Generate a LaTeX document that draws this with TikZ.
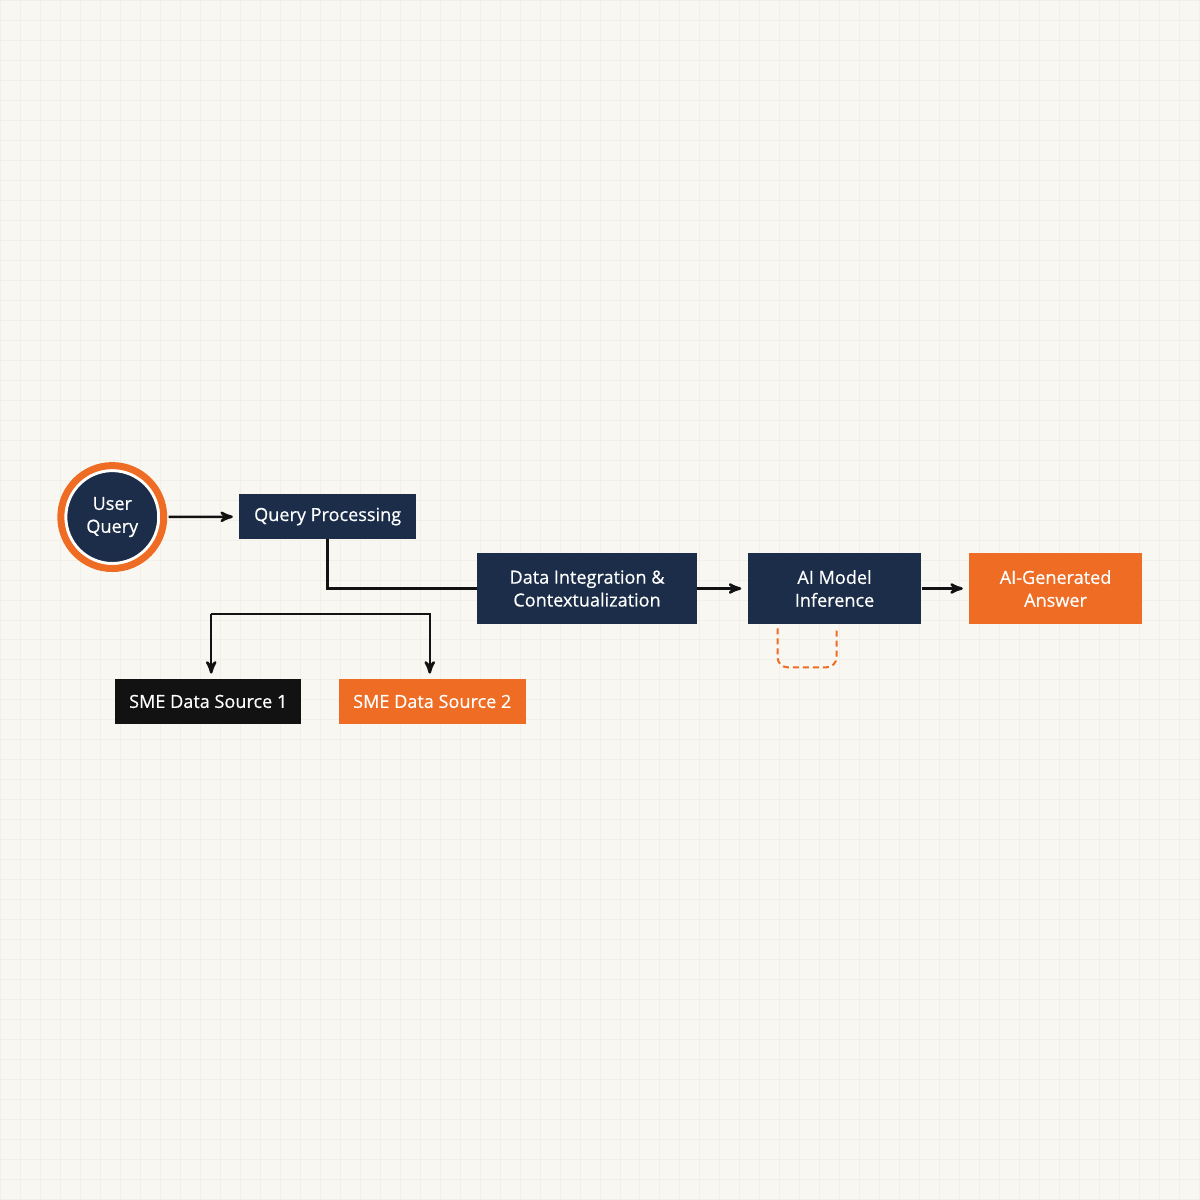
\documentclass[tikz,border=0pt]{standalone}
\usepackage{fontspec}
\setmainfont{Open Sans}
\newfontfamily\boxfont{Open Sans}[FakeBold=0.5]
\usetikzlibrary{arrows, positioning, calc}

\definecolor{navy}{HTML}{1B2D48}
\definecolor{flame}{HTML}{EE6C24}
\definecolor{ink}{HTML}{121212}
\definecolor{paper}{HTML}{F8F7F1}
\definecolor{gridline}{HTML}{F1EFE8}

\tikzset{
  box/.style={rectangle, text=white, align=center, inner sep=0pt,
    font=\boxfont\fontsize{10.3}{13}\selectfont},
  navybox/.style={box, fill=navy},
  flamebox/.style={box, fill=flame},
  inkbox/.style={box, fill=ink},
  usercircle/.style={circle, fill=navy, draw=white, line width=0.06cm,
    minimum size=1.86cm, text=white, align=center, inner sep=0pt,
    font=\boxfont\fontsize{10.3}{13}\selectfont},
  link/.style={draw=ink, line width=0.05cm},
}

\begin{document}
\begin{tikzpicture}[x=0.02cm, y=-0.02cm, >=stealth', node distance=1cm]

% paper and faint grid
  \fill[paper] (0,0) rectangle (1200,1200);
  \draw[gridline, line width=0.4pt, step=0.4cm] (0,0) grid (1200,1200);
  \useasboundingbox (0,0) rectangle (1200,1200);

% define the stages
  \node[usercircle]   (uq)   at (112,517)
{User\\Query};
  \draw[flame, line width=0.14cm] (uq.center) circle (1.03cm);
  \node[navybox, minimum width=3.54cm, minimum height=0.9cm]   (qp)   at (327.5,516.5)
{Query Processing};
  \node[navybox, minimum width=4.4cm, minimum height=1.42cm]   (di)   at (587,588.5)
{Data Integration \&\\Contextualization};
  \node[navybox, minimum width=3.48cm, minimum height=1.42cm]   (aim)   [right=1cm of di]
{AI Model\\Inference};
  \node[flamebox, minimum width=3.46cm, minimum height=1.42cm]   (ans)   [right=0.94cm of aim]
{AI-Generated\\Answer};
  \node[inkbox, minimum width=3.72cm, minimum height=0.9cm]   (src1)   at (208,701.5)
{SME Data Source 1};
  \node[flamebox, minimum width=3.74cm, minimum height=0.9cm]   (src2)   [right=0.74cm of src1]
{SME Data Source 2};
  \coordinate (fork) at (211,614);

% define the links
  \path[link, ->] (uq) edge [shorten <=0.17cm, shorten >=0.12cm] (qp)
        (di) edge [shorten >=0.12cm] (aim)
        (aim) edge [shorten >=0.12cm] (ans);
  \draw[link] (qp.south) |- (di.west);
  \draw[link, ->, shorten >=0.1cm] (fork) -- (fork |- src1.north);
  \draw[link, ->, shorten >=0.1cm] (fork) -| ([xshift=-0.05cm]src2.north);
  \draw[flame, line width=0.04cm, dash pattern=on 0.12cm off 0.08cm, rounded corners=0.2cm]
    ($(aim.south)+(-57,4)$) -- ++(0,39) -- ++(59,0) -- ++(0,-39);

\end{tikzpicture}
\end{document}
